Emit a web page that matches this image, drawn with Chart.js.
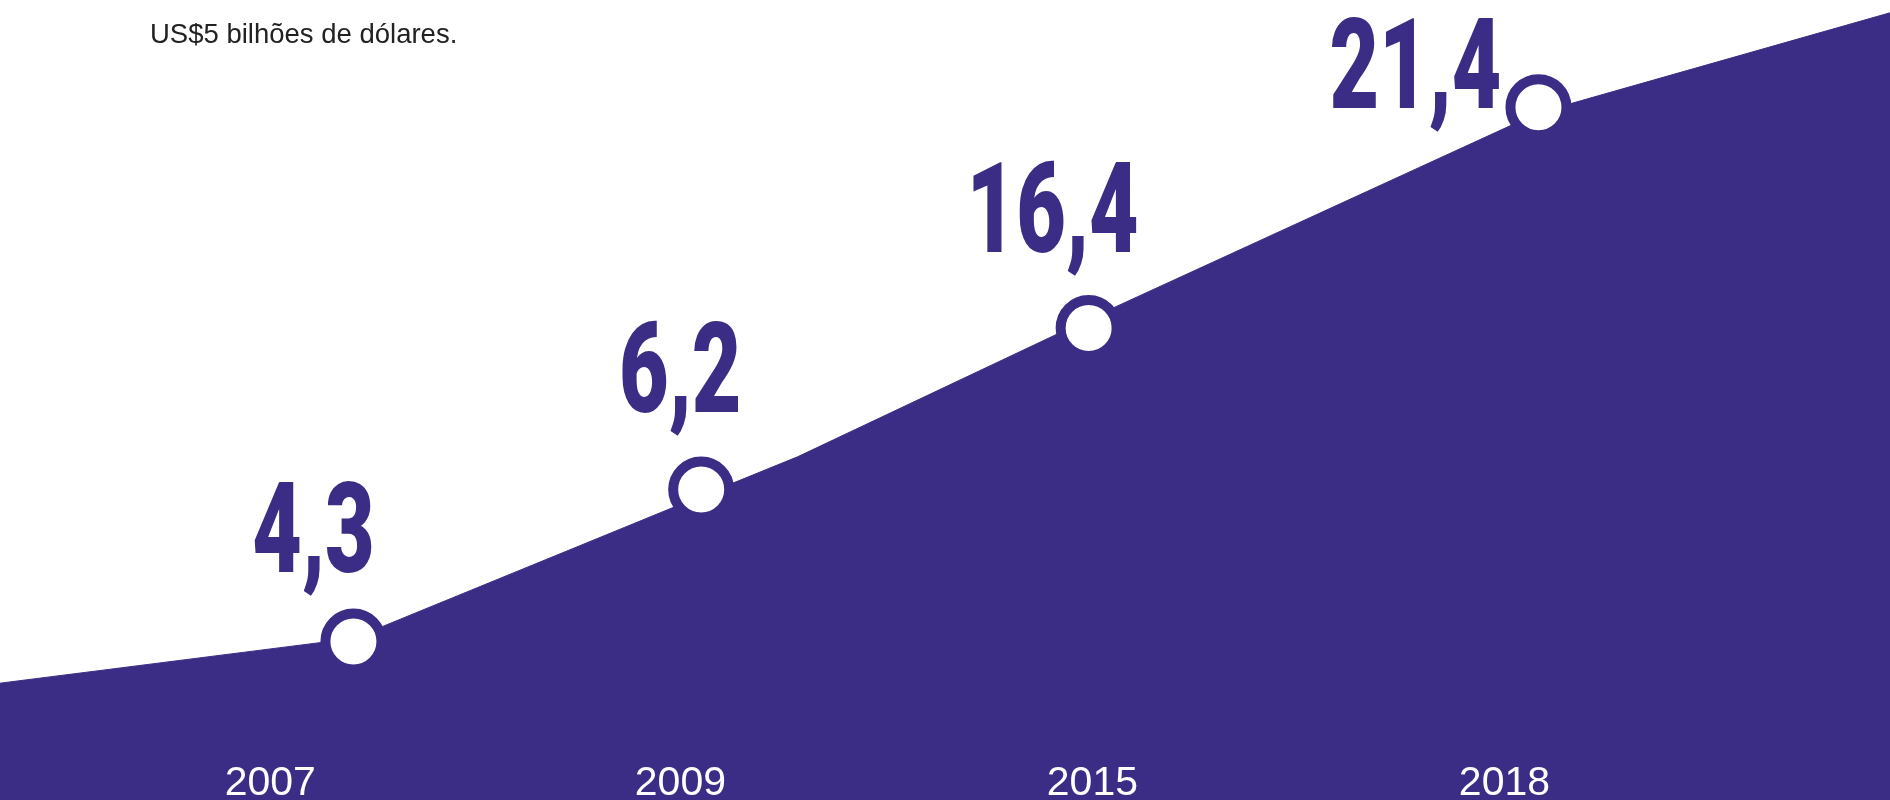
<!DOCTYPE html>
<html lang="pt">
<head>
<meta charset="utf-8">
<title>US$ bilhões</title>
<script src="https://cdn.jsdelivr.net/npm/chart.js@4.4.1/dist/chart.umd.min.js"></script>
<style>
  html, body { margin: 0; padding: 0; background: #fff; overflow: hidden; }
  #wrap { position: relative; width: 1890px; height: 800px; }
</style>
</head>
<body>
<div id="wrap"><canvas id="grafico" width="1890" height="800"></canvas></div>
<script>
const anos = ["2007", "2009", "2015", "2018"];
const valores = [4.3, 6.2, 16.4, 21.4];
// posição de cada marcador na faixa horizontal (0-100) e altura visual (0-100)
const posMarcador = [18.7, 37.1, 57.6, 81.4];
const alturaMarcador = [19.8, 38.8, 59.0, 86.6];
// onde ficam os rótulos dos anos na mesma faixa
const posAno = [14.3, 36.0, 57.8, 79.6];
// contorno da área roxa
const contornoX = [0, 18.7, 37.1, 42.2, 57.6, 81.4, 100];
const contornoY = [14.6, 20.2, 38.0, 42.9, 60.1, 85.9, 98.4];
const subtitulo = "US$5 bilhões de dólares.";

const ROXO = "#3b2d86";
// deslocamento (px) do número em relação ao marcador: [dx, dy] da linha de base
const deslocRotulo = [[-40, -70], [-21, -78], [-36, -76], [-123, 1]];

const textosPlugin = {
  id: "textos",
  afterDatasetsDraw(chart) {
    const ctx = chart.ctx;
    const x = chart.scales.x, y = chart.scales.y;
    const area = chart.chartArea;

    // números grandes
    valores.forEach((v, i) => {
      const px = x.getPixelForValue(posMarcador[i]);
      const py = y.getPixelForValue(alturaMarcador[i]);
      ctx.save();
      ctx.fillStyle = ROXO;
      ctx.font = "900 126px Roboto";
      ctx.textAlign = "center";
      ctx.textBaseline = "alphabetic";
      ctx.translate(px + deslocRotulo[i][0], py + deslocRotulo[i][1]);
      ctx.scale(0.68, 1);
      ctx.fillText(v.toLocaleString("pt-BR"), 0, 0);
      ctx.restore();
    });

    // anos na base
    ctx.save();
    ctx.fillStyle = "#ffffff";
    ctx.font = "41px 'Liberation Sans', Arial, sans-serif";
    ctx.textAlign = "center";
    ctx.textBaseline = "alphabetic";
    anos.forEach((a, i) => {
      ctx.fillText(a, x.getPixelForValue(posAno[i]), area.bottom - 5);
    });
    ctx.restore();

    // texto de cima
    ctx.save();
    ctx.fillStyle = "#222222";
    ctx.font = "27.5px 'Liberation Sans', Arial, sans-serif";
    ctx.textAlign = "left";
    ctx.textBaseline = "alphabetic";
    ctx.fillText(subtitulo, 150, 43);
    ctx.restore();
  }
};

const ctx = document.getElementById("grafico").getContext("2d");
new Chart(ctx, {
  type: "line",
  data: {
    datasets: [
      {
        label: "marcadores",
        data: posMarcador.map((p, i) => ({ x: p, y: alturaMarcador[i] })),
        showLine: false,
        pointRadius: 28,
        pointBorderWidth: 10,
        pointBackgroundColor: "#ffffff",
        pointBorderColor: ROXO,
        clip: false,
        order: 0
      },
      {
        label: "área",
        data: contornoX.map((p, i) => ({ x: p, y: contornoY[i] })),
        fill: "origin",
        backgroundColor: ROXO,
        borderColor: ROXO,
        borderWidth: 1,
        pointRadius: 0,
        tension: 0,
        clip: false,
        order: 1
      }
    ]
  },
  options: {
    responsive: false,
    animation: false,
    events: [],
    layout: { padding: 0, autoPadding: false },
    plugins: { legend: { display: false }, tooltip: { enabled: false } },
    scales: {
      x: { type: "linear", min: 0, max: 100, display: false },
      y: { min: 0, max: 100, display: false }
    }
  },
  plugins: [textosPlugin]
});
</script>
</body>
</html>
